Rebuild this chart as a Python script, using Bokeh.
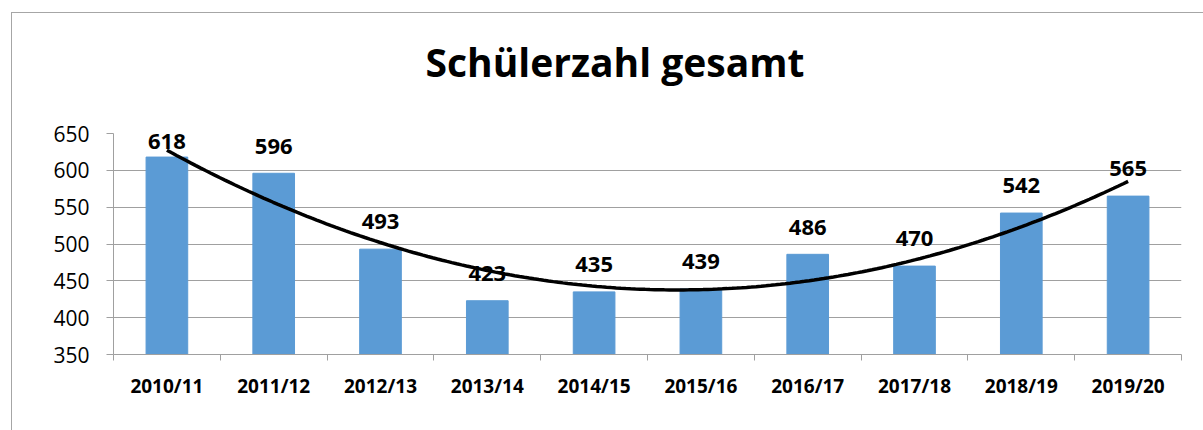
import numpy as np
from bokeh.plotting import figure
from bokeh.models import ColumnDataSource, FixedTicker, Range1d, LabelSet, Title
from bokeh.core.properties import value
from bokeh.embed import file_html
from bokeh.resources import INLINE

years = ["2010/11", "2011/12", "2012/13", "2013/14", "2014/15",
         "2015/16", "2016/17", "2017/18", "2018/19", "2019/20"]
students = [618, 596, 493, 423, 435, 439, 486, 470, 542, 565]
y_ticks = [350, 400, 450, 500, 550, 600, 650]
title_text = "Schülerzahl gesamt"

FONT = "Open Sans"
GRID = "#a0a0a0"
BAR = "#5b9bd5"

xs = list(range(1, len(years) + 1))

p = figure(width=1192, height=418, output_backend="svg", toolbar_location=None,
           x_range=Range1d(0.5, len(years) + 0.5), y_range=Range1d(350, 650),
           min_border_left=101, min_border_right=23, min_border_top=120,
           min_border_bottom=77)
p.styles = {"margin-left": "11px", "margin-top": "12px",
            "border-left": "1px solid #a6a6a6", "border-top": "1px solid #a6a6a6"}
p.outline_line_color = None
p.background_fill_color = "white"
p.border_fill_color = "white"

# spacer between frame and title, then the title itself
p.add_layout(Title(text=" ", text_font_size="10px", standoff=33), "above")
p.add_layout(Title(text=title_text, align="left", offset=312, text_font=FONT,
                   text_font_style="bold", text_font_size="39px",
                   text_color="black", standoff=0), "above")

src = ColumnDataSource(dict(x=xs, top=students,
                            label=[str(v) for v in students],
                            ly=[min(v + 37, 639) for v in students]))
p.vbar(x="x", top="top", bottom=350, width=0.39, color=BAR, source=src)

# 2nd order polynomial trendline
coef = np.polyfit(xs, students, 2)
tx = np.linspace(1, len(years), 200)
p.line(tx, np.polyval(coef, tx), line_color="black", line_width=3.5)

labels = LabelSet(x="x", y="ly", text="label", source=src,
                  text_font=value(FONT), text_font_style="bold",
                  text_font_size="22px", text_align="center",
                  text_baseline="middle", text_color="black")
p.add_layout(labels)

# axes
p.xaxis.ticker = FixedTicker(ticks=xs, minor_ticks=[x - 0.5 for x in xs] + [len(years) + 0.5])
p.xaxis.major_label_overrides = {x: y for x, y in zip(xs, years)}
p.xaxis.major_tick_line_color = None
p.xaxis.major_tick_out = 0
p.xaxis.major_tick_in = 0
p.xaxis.minor_tick_out = 6
p.xaxis.minor_tick_in = 0
p.xaxis.minor_tick_line_color = GRID
p.xaxis.axis_line_color = GRID
p.xaxis.major_label_text_font = FONT
p.xaxis.major_label_text_font_style = "bold"
p.xaxis.major_label_text_font_size = "19px"
p.xaxis.major_label_text_color = "black"
p.xaxis.major_label_standoff = 12

p.yaxis.ticker = FixedTicker(ticks=y_ticks, minor_ticks=[])
p.yaxis.major_tick_out = 7
p.yaxis.major_tick_in = 0
p.yaxis.major_tick_line_color = GRID
p.yaxis.axis_line_color = GRID
p.yaxis.minor_tick_line_color = None
p.yaxis.major_label_text_font = FONT
p.yaxis.major_label_text_font_size = "21px"
p.yaxis.major_label_text_color = "black"
p.yaxis.major_label_standoff = 17

p.xgrid.grid_line_color = None
p.ygrid.grid_line_color = GRID
p.ygrid.ticker = FixedTicker(ticks=y_ticks)

open("out.html", "w").write(file_html(p, INLINE))
